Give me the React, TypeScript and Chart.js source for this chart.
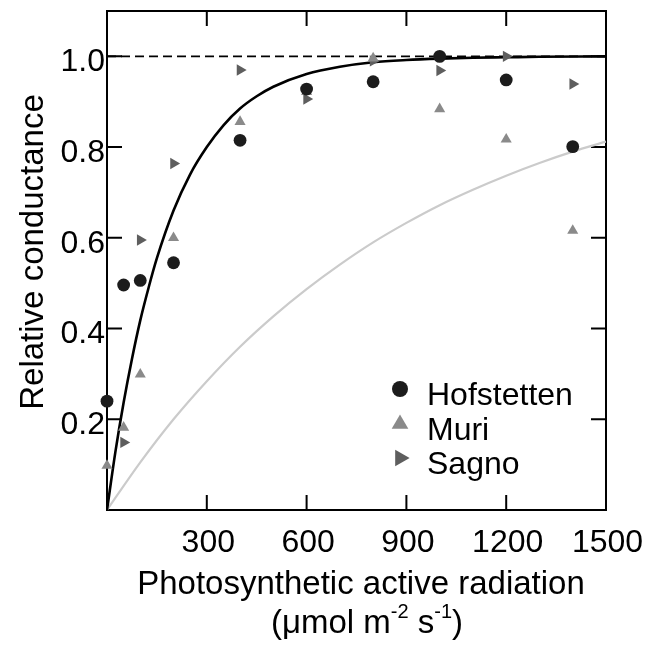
import React, { useEffect, useRef } from 'react';
import { Chart, registerables } from 'chart.js';

Chart.register(...registerables);

const FONT = '"Liberation Sans", Arial, Helvetica, sans-serif';

// Tick labels
const xTickValues = [300, 600, 900, 1200, 1500];
const yTickValues = [0.2, 0.4, 0.6, 0.8, 1.0];

// Observed data
const hofstettenX = [0, 50, 100, 200, 400, 600, 800, 1000, 1200, 1400];
const hofstettenY = [0.24, 0.496, 0.506, 0.545, 0.815, 0.928, 0.944, 1.0, 0.948, 0.801];
const muriX = [0, 50, 100, 200, 400, 600, 800, 1000, 1200, 1400];
const muriY = [0.098, 0.182, 0.299, 0.6, 0.856, 0.922, 0.996, 0.884, 0.817, 0.616];
const sagnoX = [50, 100, 200, 400, 600, 800, 1000, 1200, 1400];
const sagnoY = [0.149, 0.595, 0.764, 0.97, 0.906, 0.99, 0.969, 1.0, 0.939];

// Fitted curve (black)
const fitBlackX = [0, 25, 50, 75, 100, 125, 150, 200, 250, 300, 350, 400, 450, 500, 600, 700, 800, 900, 1000, 1100, 1200, 1300, 1500];
const fitBlackY = [0, 0.127, 0.237, 0.333, 0.418, 0.49, 0.555, 0.66, 0.74, 0.8, 0.848, 0.885, 0.912, 0.933, 0.961, 0.977, 0.987, 0.992, 0.995, 0.997, 0.998, 0.999, 1.0];

// Reference curve (light grey)
const fitGreyX = [0, 100, 200, 300, 400, 500, 600, 700, 800, 900, 1000, 1100, 1200, 1300, 1400, 1500];
const fitGreyY = [0, 0.105, 0.2, 0.284, 0.36, 0.427, 0.487, 0.541, 0.59, 0.633, 0.672, 0.706, 0.737, 0.765, 0.79, 0.812];

// Maximum conductance reference line
const refLineX = [0, 1500];
const refLineY = [1.0, 1.0];

const legendNames = ['Hofstetten', 'Muri', 'Sagno'];
const colors = ['#1c1c1c', '#8a8a8a', '#5e5e5e'];

const toPts = (xs: number[], ys: number[]) => xs.map((x, i) => ({ x, y: ys[i] }));

function drawMarker(ctx: CanvasRenderingContext2D, kind: number, x: number, y: number, r: number, color: string) {
  ctx.save();
  ctx.fillStyle = color;
  ctx.beginPath();
  if (kind === 0) {
    ctx.arc(x, y, r, 0, Math.PI * 2);
  } else {
    let rad = kind === 1 ? 0 : Math.PI / 2;
    for (let k = 0; k < 3; k++) {
      const px = x + Math.sin(rad) * r;
      const py = y - Math.cos(rad) * r;
      if (k === 0) ctx.moveTo(px, py);
      else ctx.lineTo(px, py);
      rad += (2 * Math.PI) / 3;
    }
    ctx.closePath();
  }
  ctx.fill();
  ctx.restore();
}

const framePlugin = {
  id: 'frameTicks',
  beforeDatasetsDraw(chart: any) {
    const { ctx, chartArea: a, scales } = chart;
    ctx.save();
    ctx.strokeStyle = '#000';
    ctx.lineWidth = 2;
    ctx.strokeRect(a.left, a.top, a.right - a.left, a.bottom - a.top);
    const L = 15;
    ctx.beginPath();
    xTickValues.forEach((v) => {
      if (v >= 1500) return;
      const px = scales.x.getPixelForValue(v);
      ctx.moveTo(px, a.bottom);
      ctx.lineTo(px, a.bottom - L);
      ctx.moveTo(px, a.top);
      ctx.lineTo(px, a.top + L);
    });
    yTickValues.forEach((v) => {
      const py = scales.y.getPixelForValue(v);
      ctx.moveTo(a.left, py);
      ctx.lineTo(a.left + L, py);
      ctx.moveTo(a.right, py);
      ctx.lineTo(a.right - L, py);
    });
    ctx.stroke();
    ctx.restore();
  },
};

const textPlugin = {
  id: 'titlesLegend',
  afterDraw(chart: any) {
    const { ctx, chartArea: a } = chart;
    ctx.save();
    ctx.fillStyle = '#000';
    // Y title
    ctx.save();
    ctx.translate(43, 252);
    ctx.rotate(-Math.PI / 2);
    ctx.font = `33px ${FONT}`;
    ctx.textAlign = 'center';
    ctx.textBaseline = 'alphabetic';
    ctx.fillText('Relative conductance', 0, 0);
    ctx.restore();

    // X title line 1
    ctx.font = `33px ${FONT}`;
    ctx.textAlign = 'center';
    ctx.textBaseline = 'alphabetic';
    ctx.fillText('Photosynthetic active radiation', 361, 594);

    // X title line 2 with superscripts
    const parts: [string, boolean][] = [
      ['(μmol m', false],
      ['-2', true],
      [' s', false],
      ['-1', true],
      [')', false],
    ];
    const big = `33px ${FONT}`;
    const small = `20px ${FONT}`;
    let total = 0;
    parts.forEach(([t, sup]) => {
      ctx.font = sup ? small : big;
      total += ctx.measureText(t).width;
    });
    let cx = 367 - total / 2;
    ctx.textAlign = 'left';
    parts.forEach(([t, sup]) => {
      ctx.font = sup ? small : big;
      ctx.fillText(t, cx, sup ? 618 : 633);
      cx += ctx.measureText(t).width;
    });

    // Legend
    const mx = a.left + 293;
    const tx = a.left + 320;
    const baselines = [a.top + 394, a.top + 429, a.top + 463];
    const radii = [8, 9.6, 9.6];
    ctx.font = `32px ${FONT}`;
    ctx.textAlign = 'left';
    legendNames.forEach((name, i) => {
      drawMarker(ctx, i, mx, baselines[i] - 16, radii[i], colors[i]);
      ctx.fillStyle = '#000';
      ctx.fillText(name, tx, baselines[i]);
    });
    ctx.restore();
  },
};

export default function App() {
  const ref = useRef<HTMLCanvasElement | null>(null);

  useEffect(() => {
    if (!ref.current) return;
    const chart = new Chart(ref.current, {
      type: 'scatter',
      data: {
        datasets: [
          {
            label: legendNames[0],
            data: toPts(hofstettenX, hofstettenY),
            pointStyle: 'circle',
            pointRadius: 6.4,
            pointBackgroundColor: colors[0],
            pointBorderWidth: 0,
            borderColor: colors[0],
            clip: false,
          } as any,
          {
            label: legendNames[1],
            data: toPts(muriX, muriY),
            pointStyle: 'triangle',
            pointRadius: 6.4,
            pointBackgroundColor: colors[1],
            pointBorderWidth: 0,
            borderColor: colors[1],
            clip: false,
          },
          {
            label: legendNames[2],
            data: toPts(sagnoX, sagnoY),
            pointStyle: 'triangle',
            pointRotation: 90,
            pointRadius: 6.6,
            pointBackgroundColor: colors[2],
            pointBorderWidth: 0,
            borderColor: colors[2],
            clip: false,
          },
          {
            label: 'fit',
            data: toPts(fitBlackX, fitBlackY),
            showLine: true,
            pointRadius: 0,
            borderColor: '#000',
            borderWidth: 2.6,
            cubicInterpolationMode: 'monotone',
          },
          {
            label: 'ref',
            data: toPts(fitGreyX, fitGreyY),
            showLine: true,
            pointRadius: 0,
            borderColor: '#cbcbcb',
            borderWidth: 2.2,
            cubicInterpolationMode: 'monotone',
          },
          {
            label: 'max',
            data: toPts(refLineX, refLineY),
            showLine: true,
            pointRadius: 0,
            borderColor: '#000',
            borderWidth: 1.8,
            borderDash: [9, 5],
          },
        ],
      },
      options: {
        animation: false,
        responsive: false,
        devicePixelRatio: 1,
        layout: { padding: { top: 11, right: 43, left: 0, bottom: 0 } },
        plugins: {
          legend: { display: false },
          tooltip: { enabled: false },
        },
        scales: {
          x: {
            type: 'linear',
            min: 0,
            max: 1500,
            afterBuildTicks: (s: any) => {
              s.ticks = xTickValues.map((v) => ({ value: v }));
            },
            afterFit: (s: any) => {
              s.height = 139;
              s.paddingLeft = 0;
              s.paddingRight = 0;
            },
            grid: { display: false, drawTicks: false },
            border: { display: false },
            ticks: {
              color: '#000',
              font: { family: FONT, size: 32 },
              padding: 14,
              maxRotation: 0,
              autoSkip: false,
              labelOffset: 1.5,
              callback: (v: any) => String(v),
            },
          },
          y: {
            type: 'linear',
            min: 0,
            max: 1.1,
            afterBuildTicks: (s: any) => {
              s.ticks = yTickValues.map((v) => ({ value: v }));
            },
            afterFit: (s: any) => {
              s.width = 107;
              s.paddingTop = 0;
              s.paddingBottom = 0;
            },
            grid: { display: false, drawTicks: false },
            border: { display: false },
            ticks: {
              color: '#000',
              font: { family: FONT, size: 32 },
              padding: 2,
              labelOffset: 6,
              autoSkip: false,
              callback: (v: any) => Number(v).toFixed(1),
            },
          },
        },
      },
      plugins: [framePlugin, textPlugin],
    });
    return () => chart.destroy();
  }, []);

  return (
    <canvas
      ref={ref}
      width={649}
      height={649}
      style={{ position: 'absolute', left: 0, top: 0, width: 649, height: 649 }}
    />
  );
}
